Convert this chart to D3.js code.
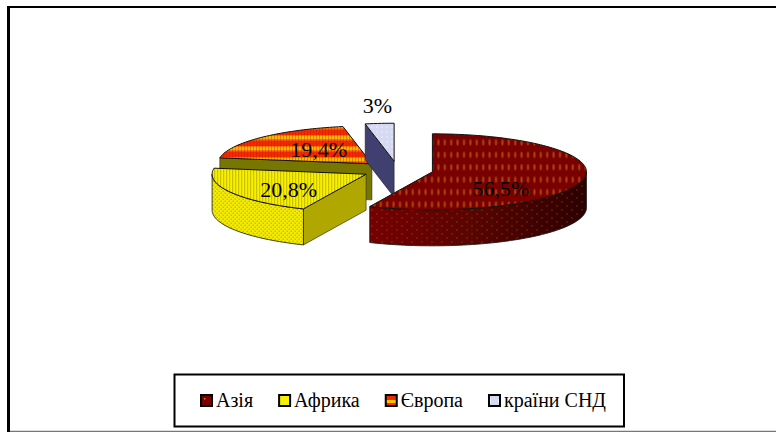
<!DOCTYPE html>
<html>
<head>
<meta charset="utf-8">
<script src="https://cdn.jsdelivr.net/npm/d3@7"></script>
<style>
  html, body { margin: 0; padding: 0; background: #fff; }
  svg { display: block; }
  text { font-family: "Liberation Serif", serif; fill: #000; }
</style>
</head>
<body>
<div id="chart"></div>
<script>
// values
const regions = ["Азія", "Африка", "Європа", "країни СНД"];
const shares = [56.5, 20.8, 19.4, 3];
const shareLabels = ["56,5%", "20,8%", "19,4%", "3%"];

const width = 776, height = 432;
const cx = 397.5, cy = 170;    // pie centre before the slices are pulled out
const rx = 154, ry = 38;       // ellipse of the tilted pie
const depth = 36;
const explode = 35.7;

// per region look
const topFill = ["url(#asiaTop)", "url(#africaTop)", "url(#europeTop)", "url(#cisTop)"];
const rimFill = ["url(#asiaRim)", "url(#africaRim)", "#777700", "#3f3f70"];
const cutFill = ["#5a0000", "#b0a800", "#777700", "#3f3f70"];
const swatchFill = ["url(#asiaSw)", "url(#africaSw)", "url(#europeSw)", "url(#cisSw)"];
const labelR = [70, 88, 74, 177];
const labelDy = [21, 12, 6, -5];
// back to front
const drawOrder = [2, 3, 1, 0];

const svg = d3.select("#chart").append("svg")
  .attr("width", width)
  .attr("height", height);

svg.append("rect").attr("width", width).attr("height", height).attr("fill", "#fff");

// frame: only left and top are dark, bottom is a grey line
svg.append("line").attr("x1", 8.5).attr("y1", 6).attr("x2", 8.5).attr("y2", 432)
  .attr("stroke", "#000").attr("stroke-width", 3);
svg.append("line").attr("x1", 7).attr("y1", 7).attr("x2", 776).attr("y2", 7)
  .attr("stroke", "#000").attr("stroke-width", 2);
svg.append("line").attr("x1", 10).attr("y1", 431.5).attr("x2", 776).attr("y2", 431.5)
  .attr("stroke", "#777").attr("stroke-width", 1.5);

// patterns
const defs = svg.append("defs");

function addPattern(id, w, h, bg, draw) {
  const p = defs.append("pattern").attr("id", id)
    .attr("patternUnits", "userSpaceOnUse")
    .attr("width", w).attr("height", h);
  p.append("rect").attr("width", w).attr("height", h).attr("fill", bg);
  draw(p);
}

addPattern("asiaTop", 6.4, 12.4, "#7a0000", p => {
  p.append("ellipse").attr("cx", 3.2).attr("cy", 6).attr("rx", 1.1).attr("ry", 3.2)
    .attr("fill", "#c8701a").attr("opacity", 0.6);
});
addPattern("africaTop", 3, 14, "#f7f000", p => {
  p.append("rect").attr("x", 1).attr("width", 1.2).attr("height", 14)
    .attr("fill", "#b5a800").attr("opacity", 0.65);
});
addPattern("europeTop", 3, 11, "#f22a00", p => {
  p.append("rect").attr("y", 4).attr("width", 3).attr("height", 3.5).attr("fill", "#f7b800");
  p.append("rect").attr("y", 3).attr("width", 3).attr("height", 1).attr("fill", "#f77a00");
  p.append("rect").attr("y", 7.5).attr("width", 3).attr("height", 1).attr("fill", "#f77a00");
  p.append("rect").attr("x", 1).attr("width", 1).attr("height", 11)
    .attr("fill", "#c81000").attr("opacity", 0.35);
});
addPattern("cisTop", 5, 5, "#d6d9f2", p => {
  p.append("circle").attr("cx", 2).attr("cy", 2).attr("r", 1).attr("fill", "#e6e8f8");
});

const asiaShade = defs.append("linearGradient").attr("id", "asiaShade")
  .attr("gradientUnits", "userSpaceOnUse")
  .attr("x1", 372).attr("x2", 586).attr("y1", 0).attr("y2", 0);
asiaShade.append("stop").attr("offset", 0).attr("stop-color", "#740000");
asiaShade.append("stop").attr("offset", 0.45).attr("stop-color", "#5a0500");
asiaShade.append("stop").attr("offset", 1).attr("stop-color", "#2c0000");

addPattern("asiaDots", 10, 8, "none", p => {
  p.append("circle").attr("cx", 2).attr("cy", 2).attr("r", 0.7).attr("fill", "#c8801a").attr("opacity", 0.5);
  p.append("circle").attr("cx", 7).attr("cy", 6).attr("r", 0.7).attr("fill", "#c8801a").attr("opacity", 0.5);
});

const asiaRim = defs.append("pattern").attr("id", "asiaRim")
  .attr("patternUnits", "userSpaceOnUse").attr("width", width).attr("height", height);
asiaRim.append("rect").attr("width", width).attr("height", height).attr("fill", "url(#asiaShade)");
asiaRim.append("rect").attr("width", width).attr("height", height).attr("fill", "url(#asiaDots)");

addPattern("africaRim", 4, 4, "#f2ea00", p => {
  p.append("circle").attr("cx", 1.2).attr("cy", 1.2).attr("r", 0.8).attr("fill", "#8f8a50").attr("opacity", 0.6);
  p.append("circle").attr("cx", 3.2).attr("cy", 3.2).attr("r", 0.8).attr("fill", "#8f8a50").attr("opacity", 0.6);
});

addPattern("asiaSw", 11, 11, "#7a0000", p => {
  p.append("rect").attr("x", 6).attr("y", 2).attr("width", 1.5).attr("height", 1.5).attr("fill", "#d08020");
});
addPattern("africaSw", 11, 11, "#f7f000", p => {});
addPattern("europeSw", 11, 11, "#f22a00", p => {
  p.append("rect").attr("y", 4).attr("width", 11).attr("height", 3).attr("fill", "#f7c000");
});
addPattern("cisSw", 11, 11, "#d6d9f2", p => {
  p.append("rect").attr("x", 3).attr("y", 3).attr("width", 4).attr("height", 4).attr("fill", "#f4f5fd");
});

// slices
const pie = d3.pie().sort(null).value(d => d);
const arcs = pie(shares);
const TAU = Math.PI * 2;

const project = (o, a, r = 1) => [o[0] + r * rx * Math.sin(a), o[1] - r * ry * Math.cos(a)];
const lineGen = d3.line();
const sample = (a0, a1) => {
  const n = Math.max(2, Math.ceil((a1 - a0) / 0.03));
  return d3.range(n + 1).map(i => a0 + (a1 - a0) * i / n);
};

const slices = svg.append("g");

drawOrder.forEach(i => {
  const d = arcs[i];
  const mid = (d.startAngle + d.endAngle) / 2;
  const apex = [cx + explode * Math.sin(mid), cy - explode * (ry / rx) * Math.cos(mid)];
  const g = slices.append("g");

  // cut face, only when it turns toward the viewer
  if (Math.sin(d.startAngle) < -0.01) {
    const p = project(apex, d.startAngle);
    g.append("path")
      .attr("d", lineGen([p, apex, [apex[0], apex[1] + depth], [p[0], p[1] + depth]]) + "Z")
      .attr("fill", cutFill[i])
      .attr("stroke", "#222").attr("stroke-width", 0.6);
  }

  // outer rim, front half only
  const a0 = Math.max(d.startAngle, TAU / 4), a1 = Math.min(d.endAngle, TAU * 3 / 4);
  if (a1 > a0) {
    const angles = sample(a0, a1);
    const upper = angles.map(a => project(apex, a));
    const lower = angles.map(a => project(apex, a)).map(p => [p[0], p[1] + depth]).reverse();
    g.append("path")
      .attr("d", lineGen(upper.concat(lower)) + "Z")
      .attr("fill", rimFill[i])
      .attr("stroke", "#111").attr("stroke-width", 0.8);
  }

  // top face
  const rim = sample(d.startAngle, d.endAngle).map(a => project(apex, a));
  g.append("path")
    .attr("d", lineGen([apex].concat(rim)) + "Z")
    .attr("fill", topFill[i])
    .attr("stroke", "#111").attr("stroke-width", 1)
    .attr("stroke-linejoin", "round");
});

// value labels go on top of everything
arcs.forEach((d, i) => {
  const mid = (d.startAngle + d.endAngle) / 2;
  const apex = [cx + explode * Math.sin(mid), cy - explode * (ry / rx) * Math.cos(mid)];
  const p = project(apex, mid, labelR[i] / rx);
  svg.append("text")
    .attr("x", apex[0] + labelR[i] * Math.sin(mid))
    .attr("y", p[1] + labelDy[i])
    .attr("text-anchor", "middle")
    .style("font-size", "22px")
    .text(shareLabels[i]);
});

// legend
svg.append("rect")
  .attr("x", 174.5).attr("y", 374.5).attr("width", 449.5).attr("height", 52)
  .attr("fill", "#fff").attr("stroke", "#000").attr("stroke-width", 2);

let legendX = 200;
regions.forEach((name, i) => {
  svg.append("rect")
    .attr("x", legendX + 1).attr("y", 395).attr("width", 11).attr("height", 11)
    .attr("fill", swatchFill[i])
    .attr("stroke", "#000").attr("stroke-width", 2);
  const t = svg.append("text")
    .attr("x", legendX + 16).attr("y", 407)
    .style("font-size", "20px")
    .text(name);
  legendX += 16 + t.node().getComputedTextLength() + 25;
});
</script>
</body>
</html>
